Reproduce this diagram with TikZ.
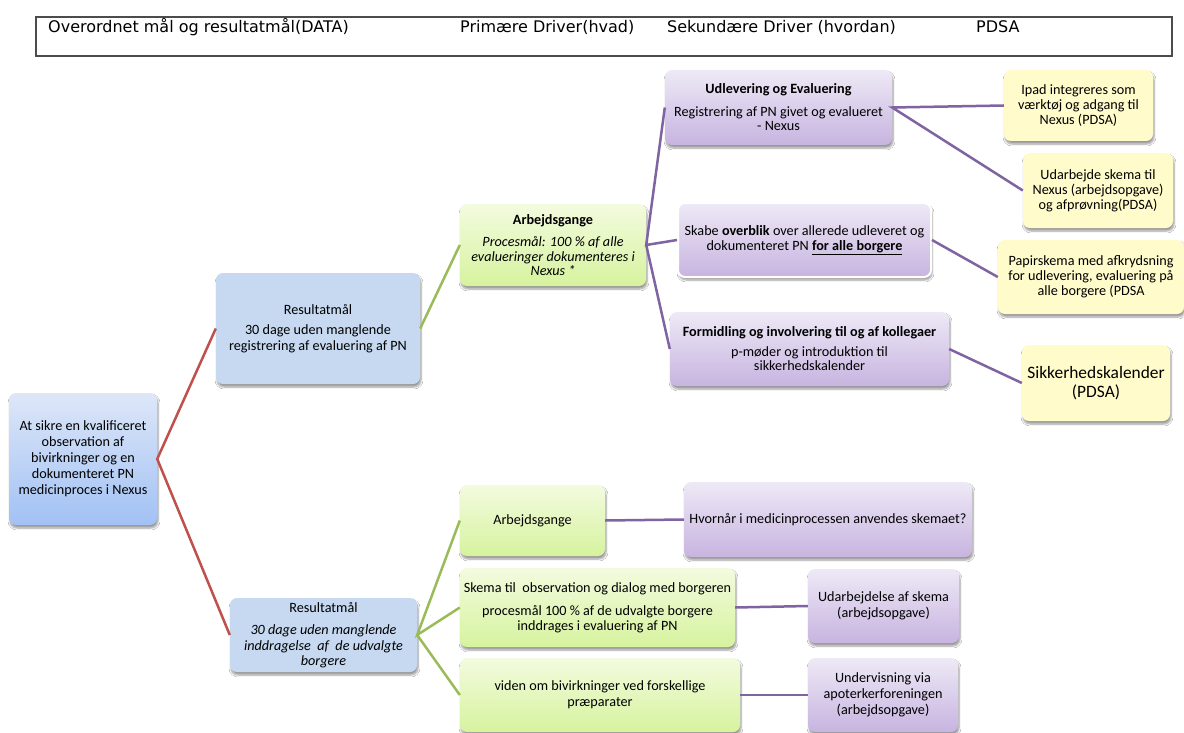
\documentclass[tikz,border=0pt]{standalone}
\usepackage{fontspec}
\setmainfont{Carlito}
\newfontfamily\hdrfont{DejaVu Sans}
\usetikzlibrary{shadows.blur}
\definecolor{redl}{HTML}{C0504D}
\definecolor{greenl}{HTML}{9BBB59}
\definecolor{purpl}{HTML}{8064A2}
\definecolor{resblue}{HTML}{C6D9F1}
\definecolor{goaltop}{HTML}{DDE7F8}
\definecolor{goalbot}{HTML}{A2C1F4}
\definecolor{grtop}{HTML}{F3FBDF}
\definecolor{grbot}{HTML}{D6F39E}
\definecolor{putop}{HTML}{EEE9F6}
\definecolor{pubot}{HTML}{C7B4E0}
\definecolor{yel}{HTML}{FFFBCB}
\begin{document}
\begin{tikzpicture}[x=1pt,y=-1pt,
  base/.style={rounded corners=7pt, align=center, inner sep=3pt,
    font=\fontsize{14.2}{15.5}\selectfont,
    blur shadow={shadow xshift=1pt, shadow yshift=-3pt, shadow blur steps=6, shadow opacity=40}},
  goalbox/.style={base, top color=goaltop, bottom color=goalbot, font=\fontsize{14.2}{16}\selectfont},
  resbox/.style={base, fill=resblue, font=\fontsize{14.2}{16}\selectfont},
  grbox/.style={base, top color=grtop, bottom color=grbot},
  pubox/.style={base, top color=putop, bottom color=pubot},
  yebox/.style={base, fill=yel},
  hdr/.style={anchor=base west, inner sep=0pt, font=\hdrfont\fontsize{16}{19}\selectfont},
  rline/.style={draw=redl, line width=2.5pt},
  gline/.style={draw=greenl, line width=2.5pt},
  pline/.style={draw=purpl, line width=2.5pt}
]
\useasboundingbox (0,0) rectangle (1184,733);
\fill[white] (0,0) rectangle (1184,733);

% header
\node[draw=black!70, line width=1.2pt, minimum width=1136pt, minimum height=39pt, inner sep=0pt] (header) at (604,36.5) {};
\node[hdr] (h1) at (48,33) {Overordnet mål og resultatmål(DATA)};
\node[hdr] (h2) at (460,33) {Primære Driver(hvad)};
\node[hdr] (h3) at (667,33) {Sekundære Driver (hvordan)};
\node[hdr] (h4) at (976,33) {PDSA};

% boxes
\node[goalbox, minimum width=148pt, minimum height=132pt] (goal) at (83,459)
  {At sikre en kvalificeret\\ observation af\\ bivirkninger og en\\ dokumenteret PN\\ medicinproces i Nexus};
\node[resbox, minimum width=204pt, minimum height=111pt] (res1) at (318,328.5)
  {Resultatmål\\[4pt] 30 dage uden manglende\\ registrering af evaluering af PN};
\node[resbox, minimum width=187pt, minimum height=74pt, font=\fontsize{14.2}{15.5}\selectfont] (res2) at (323.5,635)
  {Resultatmål\\[7pt] \textit{30 dage uden manglende}\\ \textit{inddragelse\ \ af\ \ de udvalgte}\\ \textit{borgere}};

\node[grbox, minimum width=186pt, minimum height=82pt, font=\fontsize{14.2}{14.5}\selectfont] (arb1) at (553,245)
  {\textbf{Arbejdsgange}\\[8pt] \textit{Procesmål: 100 \% af alle}\\ \textit{evalueringer dokumenteres i}\\ \textit{Nexus *}};

\node[pubox, minimum width=227pt, minimum height=75pt, font=\fontsize{14.2}{14.5}\selectfont] (udl) at (778.5,107.5)
  {\textbf{Udlevering og Evaluering}\\[8pt] Registrering af PN givet og evalueret\\ - Nexus};
\node[pubox, draw=white, line width=2pt, minimum width=253pt, minimum height=74pt] (skabe) at (804.5,240)
  {Skabe \textbf{overblik} over allerede udleveret og\\ dokumenteret PN \textbf{\underline{for alle borgere}}};
\node[pubox, minimum width=279pt, minimum height=74pt, font=\fontsize{14.2}{14}\selectfont] (form) at (809.5,349)
  {\textbf{Formidling og involvering til og af kollegaer}\\[6pt] p-møder og introduktion til\\ sikkerhedskalender};

\node[yebox, minimum width=149pt, minimum height=71pt, font=\fontsize{14.2}{15}\selectfont] (ipad) at (1078.5,105.5)
  {Ipad integreres som\\ værktøj og adgang til\\ Nexus (PDSA)};
\node[yebox, minimum width=150pt, minimum height=75pt, font=\fontsize{14.2}{15}\selectfont] (udarb) at (1098,190.5)
  {Udarbejde skema til\\ Nexus (arbejdsopgave)\\ og afprøvning(PDSA)};
\node[yebox, minimum width=186pt, minimum height=74pt, font=\fontsize{14.2}{15}\selectfont] (papir) at (1091,277)
  {Papirskema med afkrydsning\\ for udlevering, evaluering på\\ alle borgere (PDSA};
\node[yebox, minimum width=148pt, minimum height=76pt, font=\fontsize{17.4}{19.5}\selectfont] (sikk) at (1096,383)
  {Sikkerhedskalender\\ (PDSA)};

\node[grbox, minimum width=145pt, minimum height=71pt] (arb2) at (532.5,520.5) {Arbejdsgange};
\node[pubox, minimum width=288pt, minimum height=75pt] (hvor) at (828,519.5)
  {Hvornår i medicinprocessen anvendes skemaet?};
\node[grbox, minimum width=275pt, minimum height=79pt, font=\fontsize{14.2}{14.5}\selectfont] (skema) at (597.5,607.5)
  {Skema til\ \ observation og dialog med borgeren\\[9pt] procesmål 100 \% af de udvalgte borgere\\ inddrages i evaluering af PN};
\node[pubox, minimum width=151pt, minimum height=74pt] (udarbd) at (883.5,606)
  {Udarbejdelse af skema\\ (arbejdsopgave)};
\node[grbox, minimum width=280pt, minimum height=74pt, font=\fontsize{14.2}{16}\selectfont] (viden) at (600,695)
  {viden om bivirkninger ved forskellige\\ præparater};
\node[pubox, minimum width=150pt, minimum height=74pt, font=\fontsize{14.2}{16}\selectfont] (underv) at (883,695)
  {Undervisning via\\ apoterkerforeningen\\ (arbejdsopgave)};

% connectors
\draw[rline] (res1.west) -- (goal.east) -- (res2.west);
\draw[gline] (res1.east) -- (arb1.west);
\draw[gline] (arb2.west) -- (res2.east) -- (skema.west);
\draw[gline] (res2.east) -- (viden.west);
\draw[pline] (udl.west) -- (arb1.east) -- (skabe.west);
\draw[pline] (arb1.east) -- (form.west);
\draw[pline] (ipad.west) -- (udl.east) -- (udarb.west);
\draw[pline] (skabe.east) -- (papir.west);
\draw[pline] (form.east) -- (sikk.west);
\draw[pline] (arb2.east) -- (hvor.west);
\draw[pline] (skema.east) -- (udarbd.west);
\draw[pline] (viden.east) -- (underv.west);
\end{tikzpicture}
\end{document}
